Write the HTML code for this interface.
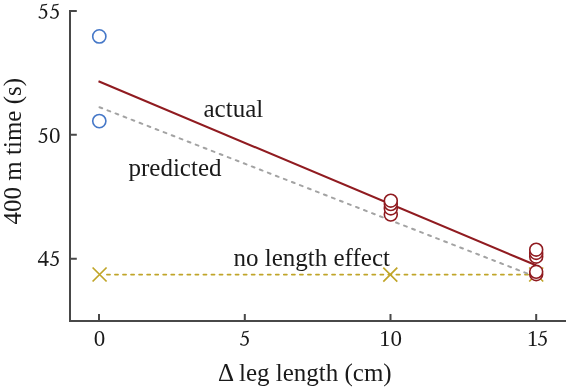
<!DOCTYPE html>
<html>
<head>
<meta charset="utf-8">
<style>
html,body{margin:0;padding:0;background:#fff;width:568px;height:388px;overflow:hidden;}
svg{display:block;will-change:transform;}
text{font-family:"Liberation Serif",serif;fill:#1a1a1a;}
</style>
</head>
<body>
<svg width="568" height="388" viewBox="0 0 568 388">
  <!-- axes -->
  <g stroke="#484848" stroke-width="2" fill="none">
    <path d="M70 9.9 V321 H566"/>
    <path d="M70 10.9 H76.8 M70 134.85 H76.8 M70 258.85 H76.8"/>
    <path d="M99 321 V314 M244.8 321 V314 M390.5 321 V314 M536.2 321 V314"/>
  </g>
  <!-- tick labels -->
  <g font-size="23">
    <path transform="translate(38.45 3.70)" fill="#1a1a1a" d="M3.0 1.0 L3.3 0.7 L8.9 0.0 L8.35 1.4 L4.0 2.0 L2.9 5.4 C3.6 5.2 4.2 5.1 4.8 5.1 C7.2 5.1 8.9 7.2 8.9 9.8 C8.9 12.8 6.6 15.1 3.6 15.1 C1.8 15.1 0.0 14.4 0.0 13.4 C0.0 12.9 0.4 12.5 0.9 12.5 C1.4 12.5 1.7 12.8 2.0 13.2 C2.5 13.8 3.1 14.1 3.9 14.1 C5.8 14.1 7.0 12.4 7.0 10.3 C7.0 7.9 5.6 6.4 3.6 6.4 C2.9 6.4 2.2 6.6 1.5 7.0 Z"/><path transform="translate(49.95 3.70)" fill="#1a1a1a" d="M3.0 1.0 L3.3 0.7 L8.9 0.0 L8.35 1.4 L4.0 2.0 L2.9 5.4 C3.6 5.2 4.2 5.1 4.8 5.1 C7.2 5.1 8.9 7.2 8.9 9.8 C8.9 12.8 6.6 15.1 3.6 15.1 C1.8 15.1 0.0 14.4 0.0 13.4 C0.0 12.9 0.4 12.5 0.9 12.5 C1.4 12.5 1.7 12.8 2.0 13.2 C2.5 13.8 3.1 14.1 3.9 14.1 C5.8 14.1 7.0 12.4 7.0 10.3 C7.0 7.9 5.6 6.4 3.6 6.4 C2.9 6.4 2.2 6.6 1.5 7.0 Z"/>
    <path transform="translate(38.45 127.90)" fill="#1a1a1a" d="M3.0 1.0 L3.3 0.7 L8.9 0.0 L8.35 1.4 L4.0 2.0 L2.9 5.4 C3.6 5.2 4.2 5.1 4.8 5.1 C7.2 5.1 8.9 7.2 8.9 9.8 C8.9 12.8 6.6 15.1 3.6 15.1 C1.8 15.1 0.0 14.4 0.0 13.4 C0.0 12.9 0.4 12.5 0.9 12.5 C1.4 12.5 1.7 12.8 2.0 13.2 C2.5 13.8 3.1 14.1 3.9 14.1 C5.8 14.1 7.0 12.4 7.0 10.3 C7.0 7.9 5.6 6.4 3.6 6.4 C2.9 6.4 2.2 6.6 1.5 7.0 Z"/><text x="49" y="142.8">0</text>
    <text x="37.5" y="265.8">4</text><path transform="translate(49.95 250.90)" fill="#1a1a1a" d="M3.0 1.0 L3.3 0.7 L8.9 0.0 L8.35 1.4 L4.0 2.0 L2.9 5.4 C3.6 5.2 4.2 5.1 4.8 5.1 C7.2 5.1 8.9 7.2 8.9 9.8 C8.9 12.8 6.6 15.1 3.6 15.1 C1.8 15.1 0.0 14.4 0.0 13.4 C0.0 12.9 0.4 12.5 0.9 12.5 C1.4 12.5 1.7 12.8 2.0 13.2 C2.5 13.8 3.1 14.1 3.9 14.1 C5.8 14.1 7.0 12.4 7.0 10.3 C7.0 7.9 5.6 6.4 3.6 6.4 C2.9 6.4 2.2 6.6 1.5 7.0 Z"/>
    <text x="93.75" y="345.6">0</text>
    <path transform="translate(240.00 330.70)" fill="#1a1a1a" d="M3.0 1.0 L3.3 0.7 L8.9 0.0 L8.35 1.4 L4.0 2.0 L2.9 5.4 C3.6 5.2 4.2 5.1 4.8 5.1 C7.2 5.1 8.9 7.2 8.9 9.8 C8.9 12.8 6.6 15.1 3.6 15.1 C1.8 15.1 0.0 14.4 0.0 13.4 C0.0 12.9 0.4 12.5 0.9 12.5 C1.4 12.5 1.7 12.8 2.0 13.2 C2.5 13.8 3.1 14.1 3.9 14.1 C5.8 14.1 7.0 12.4 7.0 10.3 C7.0 7.9 5.6 6.4 3.6 6.4 C2.9 6.4 2.2 6.6 1.5 7.0 Z"/>
    <text x="379" y="345.6">10</text>
    <text x="526.7" y="345.6">1</text><path transform="translate(537.95 330.70)" fill="#1a1a1a" d="M3.0 1.0 L3.3 0.7 L8.9 0.0 L8.35 1.4 L4.0 2.0 L2.9 5.4 C3.6 5.2 4.2 5.1 4.8 5.1 C7.2 5.1 8.9 7.2 8.9 9.8 C8.9 12.8 6.6 15.1 3.6 15.1 C1.8 15.1 0.0 14.4 0.0 13.4 C0.0 12.9 0.4 12.5 0.9 12.5 C1.4 12.5 1.7 12.8 2.0 13.2 C2.5 13.8 3.1 14.1 3.9 14.1 C5.8 14.1 7.0 12.4 7.0 10.3 C7.0 7.9 5.6 6.4 3.6 6.4 C2.9 6.4 2.2 6.6 1.5 7.0 Z"/>
  </g>
  <text x="218" y="380.5" font-size="25">Δ leg length (cm)</text>
  <text transform="translate(20.8 151.2) rotate(-90)" font-size="25" text-anchor="middle">400 m time (s)</text>

  <!-- in-plot labels -->
  <g font-size="25">
    <text x="203.5" y="117.2">actual</text>
    <text x="128.5" y="176.1">predicted</text>
    <text x="233.5" y="265.8">no length effect</text>
  </g>

  <!-- no length effect (yellow) -->
  <g stroke="#c0a529" stroke-width="1.7" fill="none">
    <path d="M106.9 274.5 H536" stroke-width="1.75" stroke-linecap="round" stroke-dasharray="3.1 4.94"/>
    <path d="M92.6 267.5 L106.6 281.5 M106.6 267.5 L92.6 281.5"/>
    <path d="M383.3 267.6 L397.3 281.6 M397.3 267.6 L383.3 281.6"/>
    <path d="M529.2 267.5 L543.2 281.5 M543.2 267.5 L529.2 281.5"/>
  </g>

  <!-- predicted (gray dashed) -->
  <path d="M99.5 107.2 L536.2 277" stroke="#a3a3a3" stroke-width="2" stroke-linecap="round" stroke-dasharray="2.9 5.7" fill="none"/>

  <!-- actual (red) -->
  <path d="M98.5 81.3 L536 265.3" stroke="#901b20" stroke-width="2.05" fill="none"/>

  <!-- blue circles -->
  <g stroke="#4678c8" stroke-width="1.6" fill="#fff">
    <circle cx="99.3" cy="36.4" r="6.6"/>
    <circle cx="99.3" cy="121.1" r="6.6"/>
  </g>

  <!-- red circles -->
  <g stroke="#901b20" stroke-width="1.6" fill="#fff">
    <circle cx="390.8" cy="214.6" r="6.45"/>
    <circle cx="390.8" cy="208.4" r="6.45"/>
    <circle cx="390.8" cy="204.0" r="6.45"/>
    <circle cx="390.8" cy="200.7" r="6.45"/>
    <circle cx="536.2" cy="274.2" r="6.45"/>
    <circle cx="536.2" cy="271.8" r="6.45"/>
    <circle cx="536.2" cy="256.7" r="6.45"/>
    <circle cx="536.2" cy="252.9" r="6.45"/>
    <circle cx="536.2" cy="249.7" r="6.45"/>
  </g>
</svg>
</body>
</html>
